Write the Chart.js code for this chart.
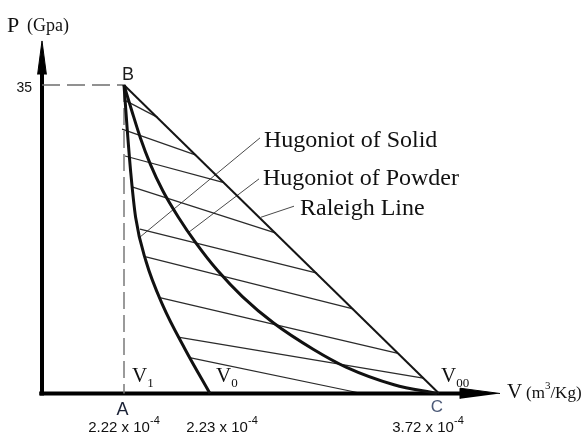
<!DOCTYPE html>
<html>
<head>
<meta charset="utf-8">
<title>Hugoniot of Solid / Powder and Raleigh Line</title>
<script src="https://cdn.jsdelivr.net/npm/chart.js@4.4.1/dist/chart.umd.min.js"></script>
<style>
  html, body { margin: 0; padding: 0; background: #fff; }
  canvas { display: block; }
</style>
</head>
<body>
<canvas id="hugoniotChart" width="586" height="436"></canvas>
<script>
// ── Data ──
// V is a schematic position along the volume axis (the sketch is not to scale),
// P is pressure in GPa.
const peakPressure = 35;
const volumeTicks = [2.05, 4.2, 9.925];          // V1, V0, V00
const volumeSubscripts = ['1', '0', '00'];
const tickMantissas = ['2.22', '2.23', '3.72'];
const tickExponent = '-4';
const pointNames = ['A', 'B', 'C'];

const solidP = [35, 30, 25, 20, 15, 10, 5, 0];
const solidV = [2.05, 2.13, 2.22, 2.34, 2.6, 3.02, 3.58, 4.2];

const powderP = [35, 32, 29, 26, 23, 20, 17, 14, 11, 8, 5, 3, 1, 0];
const powderV = [2.05, 2.25, 2.46, 2.71, 3.02, 3.41, 3.86, 4.38, 5.01, 5.79, 6.79, 7.6, 8.8, 9.875];

const raleighV = [2.05, 9.925];
const raleighP = [35, 0];

const hatchStartV = [2.1, 2.0, 2.075, 2.25, 2.45, 2.6, 2.97, 3.4, 3.72];
const hatchStartP = [33.2, 30.0, 26.95, 23.45, 18.65, 15.5, 10.85, 6.4, 4.05];
const hatchEndV = [2.9, 3.85, 4.525, 5.85, 6.875, 7.775, 8.9, 9.53, 8.0];
const hatchEndP = [31.3, 27.05, 23.95, 18.2, 13.65, 9.6, 4.55, 1.75, 0];

const curveLabels = ['Hugoniot of Solid', 'Hugoniot of Powder', 'Raleigh Line'];
const leaderFromV = [2.45, 3.67, 5.475];
const leaderFromP = [17.75, 18.3, 20.0];
const leaderToV = [5.45, 5.425, 6.3];
const leaderToP = [29.0, 24.35, 21.25];

const axisEndV = 11.45;   // tip of the V arrow
const axisEndP = 40.0;    // tip of the P arrow

// ── Styling ──
const SERIF = '"Liberation Serif", "Times New Roman", serif';
const SANS = '"Liberation Sans", Arial, sans-serif';
const tickOffsets = [0, 12, -11];
const subOffsets = [8, 6, 2];
const labelOffsets = [[4, 9], [4, 6], [6, 9]];

const pts = (vs, ps) => vs.map((v, i) => ({ x: v, y: ps[i] }));

function lineSet(data, color, width, extra) {
  return Object.assign({
    data,
    showLine: true,
    borderColor: color,
    borderWidth: width,
    pointRadius: 0,
    pointHoverRadius: 0,
    fill: false,
    tension: 0
  }, extra || {});
}

const datasets = [
  lineSet(pts(solidV, solidP), '#111', 3, { cubicInterpolationMode: 'monotone' }),
  lineSet(pts(powderV, powderP), '#111', 3, { cubicInterpolationMode: 'monotone' }),
  lineSet(pts(raleighV, raleighP), '#151515', 2),
  // dashed guides to B
  lineSet(pts([0, volumeTicks[0]], [peakPressure, peakPressure]), '#6e6e6e', 1.5, { borderDash: [18, 7] }),
  lineSet(pts([volumeTicks[0], volumeTicks[0]], [peakPressure, 0]), '#7a7a7a', 1.5, { borderDash: [17, 6] }),
  // axes
  lineSet(pts([0, 0], [-0.22, 36.3]), '#000', 4),
  lineSet(pts([-0.07, 10.6], [0, 0]), '#000', 4),
  lineSet(pts([-0.11, 0, 0.11], [36.2, axisEndP, 36.2]), '#000', 1, { fill: 'shape', backgroundColor: '#000' }),
  lineSet(pts([10.45, 10.45, axisEndV], [-0.6, 0.6, 0]), '#000', 1, { fill: 'shape', backgroundColor: '#000' })
];

hatchStartV.forEach((v, i) => {
  datasets.push(lineSet(pts([v, hatchEndV[i]], [hatchStartP[i], hatchEndP[i]]), '#2b2b2b', 1.2));
});
leaderFromV.forEach((v, i) => {
  datasets.push(lineSet(pts([v, leaderToV[i]], [leaderFromP[i], leaderToP[i]]), '#4a4a4a', 1));
});

// ── Text labels (placed through the scales) ──
function drawParts(ctx, x, y, parts, align) {
  let total = 0;
  parts.forEach(p => { ctx.font = p[1]; total += ctx.measureText(p[0]).width; });
  let cx = align === 'center' ? x - total / 2 : x;
  parts.forEach(p => {
    ctx.font = p[1];
    ctx.fillText(p[0], cx, y + (p[2] || 0));
    cx += ctx.measureText(p[0]).width;
  });
}

const textPlugin = {
  id: 'diagramText',
  afterDatasetsDraw(chart) {
    const { ctx, scales: { x, y } } = chart;
    const px = v => x.getPixelForValue(v);
    const py = p => y.getPixelForValue(p);
    const x0 = px(0), y0 = py(0);
    ctx.save();
    ctx.textBaseline = 'alphabetic';
    ctx.textAlign = 'left';
    ctx.fillStyle = '#111';

    // axis titles
    ctx.font = '22px ' + SERIF;
    ctx.fillText('P', x0 - 35, py(axisEndP) - 9);
    ctx.font = '18px ' + SERIF;
    ctx.fillText('(Gpa)', x0 - 15, py(axisEndP) - 10);
    const tip = px(axisEndV);
    ctx.font = '21px ' + SERIF;
    ctx.fillText('V', tip + 7, y0 + 4.5);
    drawParts(ctx, tip + 26, y0 + 4.5, [['(m', '17px ' + SERIF], ['3', '11px ' + SERIF, -9], ['/Kg)', '17px ' + SERIF]]);

    // pressure tick
    ctx.font = '14px ' + SANS;
    ctx.textAlign = 'right';
    ctx.fillText(String(peakPressure), x0 - 10, py(peakPressure) + 7);
    ctx.textAlign = 'left';

    // point names
    ctx.fillStyle = '#1b2236';
    ctx.font = '18px ' + SANS;
    ctx.textAlign = 'center';
    ctx.fillText(pointNames[0], px(volumeTicks[0]) - 1.5, y0 + 21.5);
    ctx.textAlign = 'left';
    ctx.fillStyle = '#1c1c1c';
    ctx.fillText(pointNames[1], px(volumeTicks[0]) - 2, py(peakPressure) - 5);
    ctx.fillStyle = '#4c5a78';
    ctx.font = '17px ' + SANS;
    ctx.textAlign = 'center';
    ctx.fillText(pointNames[2], px(volumeTicks[2]) - 2, y0 + 18.5);
    ctx.textAlign = 'left';

    // volume ticks
    ctx.fillStyle = '#111';
    volumeTicks.forEach((v, i) => {
      drawParts(ctx, px(v) + tickOffsets[i], y0 + 38.5,
        [[tickMantissas[i] + ' x 10', '15px ' + SANS], [tickExponent, '11px ' + SANS, -8]], 'center');
      drawParts(ctx, px(v) + subOffsets[i], y0 - 11,
        [['V', '21px ' + SERIF], [volumeSubscripts[i], '13px ' + SERIF, 5]]);
    });

    // curve names at the leader ends
    ctx.font = '24px ' + SERIF;
    curveLabels.forEach((t, i) => {
      ctx.fillText(t, px(leaderToV[i]) + labelOffsets[i][0], py(leaderToP[i]) + labelOffsets[i][1]);
    });
    ctx.restore();
  }
};

new Chart(document.getElementById('hugoniotChart'), {
  type: 'scatter',
  data: { datasets },
  options: {
    responsive: false,
    animation: false,
    layout: { padding: 0 },
    plugins: { legend: { display: false }, tooltip: { enabled: false } },
    scales: {
      x: { type: 'linear', display: false, min: -1.05, max: 13.6 },
      y: { type: 'linear', display: false, min: -4.822, max: 44.645 }
    }
  },
  plugins: [textPlugin]
});
</script>
</body>
</html>
